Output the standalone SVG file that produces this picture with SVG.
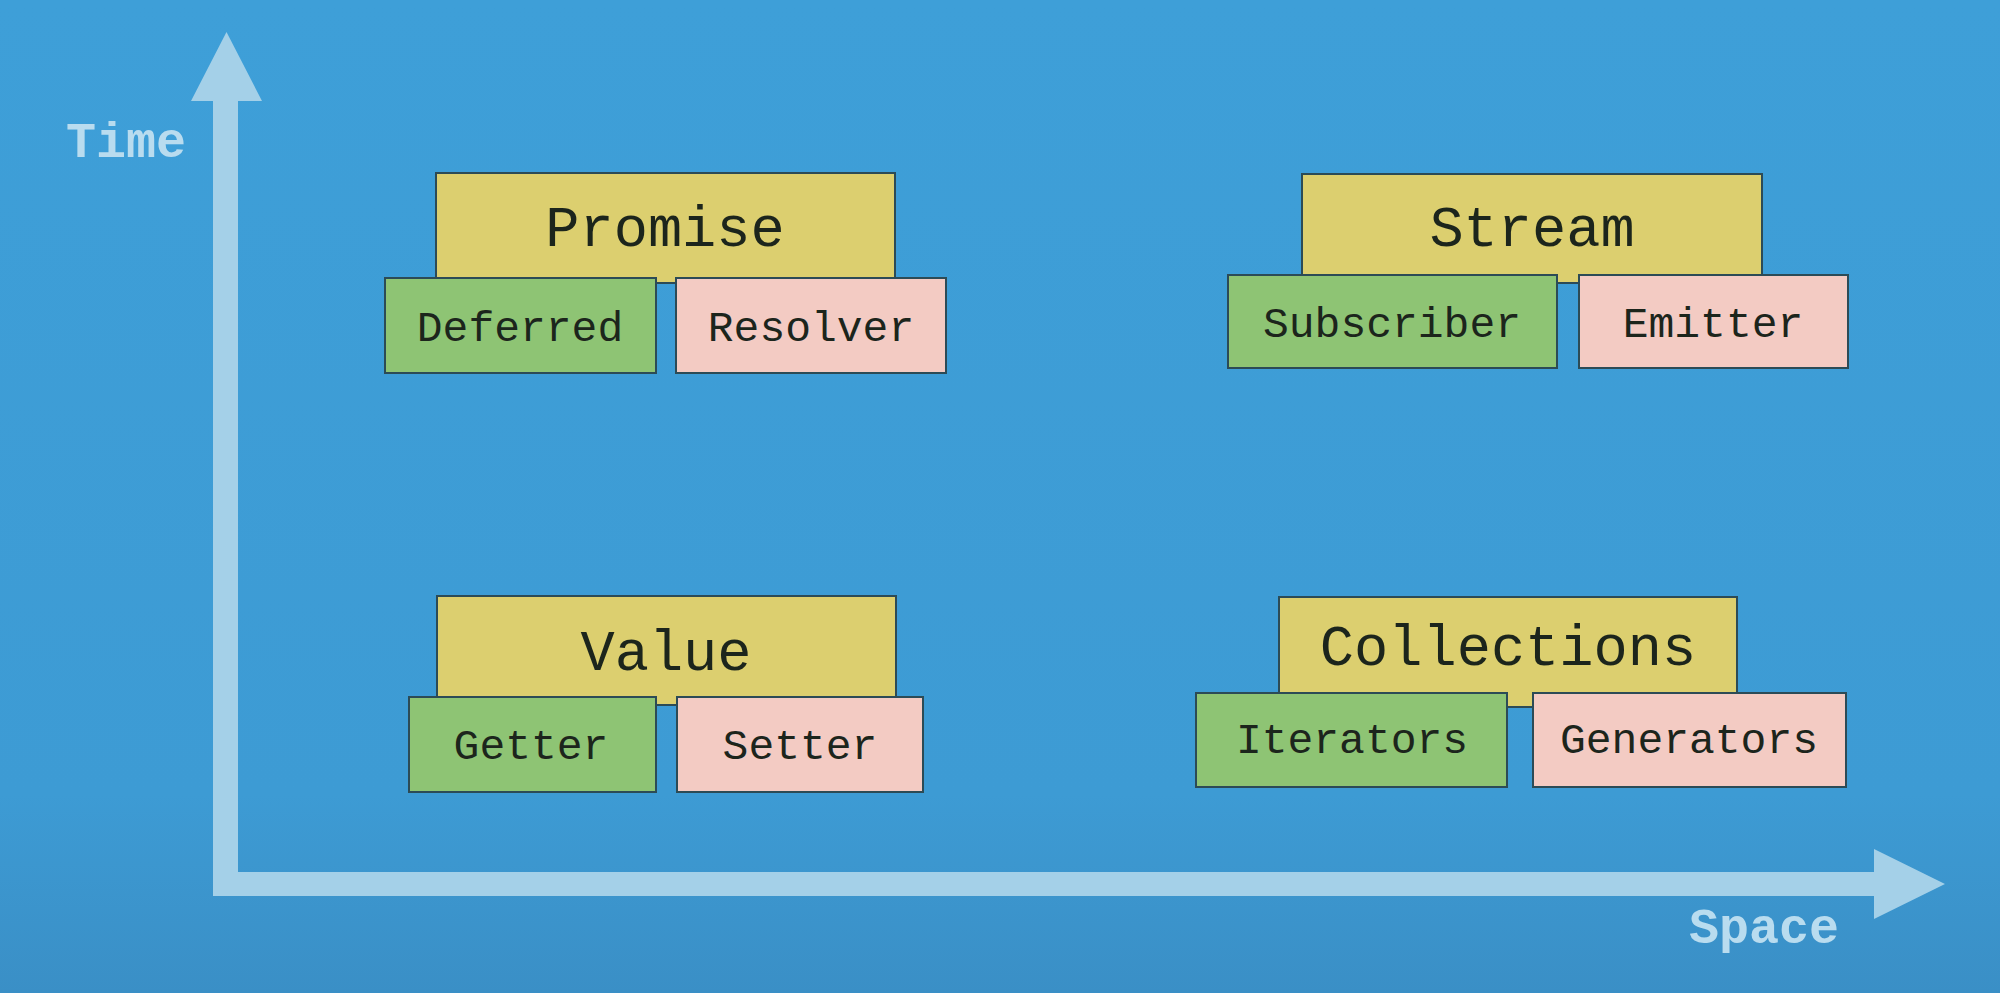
<svg xmlns="http://www.w3.org/2000/svg" width="2000" height="993" viewBox="0 0 2000 993">
<defs>
<linearGradient id="bg" x1="0" y1="0" x2="0" y2="1">
<stop offset="0" stop-color="#3e9fd8"/>
<stop offset="0.8" stop-color="#3d9bd4"/>
<stop offset="1" stop-color="#3a8fc6"/>
</linearGradient>
<style>
.ax{fill:#a4d0e8}
.axt{font-family:"Liberation Mono","Courier New",monospace;font-weight:bold;fill:#b9dcef;font-size:50px}
.bx{stroke:#2c4b56;stroke-width:2}
.y{fill:#dccf6f}
.g{fill:#8ec474}
.p{fill:#f3cbc3}
.t{font-family:"Liberation Mono","Courier New",monospace;fill:#1c251c;text-anchor:middle}
.big{font-size:57px}
.sm{font-size:43px}
</style>
</defs>
<rect width="2000" height="993" fill="url(#bg)"/>
<g id="axes">
<path class="ax" d="M213,101 L191,101 L226.5,32 L262,101 L238,101 L238,872 L1874,872 L1874,849 L1945,884 L1874,919 L1874,896 L213,896 Z"/>
<text class="axt" x="66" y="157">Time</text>
<text class="axt" x="1689" y="943">Space</text>
</g>
<g id="promise"><rect class="bx y" x="436" y="173" width="459" height="110"/><text class="t big" x="665" y="246">Promise</text></g>
<g id="deferred"><rect class="bx g" x="385" y="278" width="271" height="95"/><text class="t sm" x="520" y="341">Deferred</text></g>
<g id="resolver"><rect class="bx p" x="676" y="278" width="270" height="95"/><text class="t sm" x="811" y="341">Resolver</text></g>
<g id="stream"><rect class="bx y" x="1302" y="174" width="460" height="109"/><text class="t big" x="1532" y="246">Stream</text></g>
<g id="subscriber"><rect class="bx g" x="1228" y="275" width="329" height="93"/><text class="t sm" x="1392" y="337">Subscriber</text></g>
<g id="emitter"><rect class="bx p" x="1579" y="275" width="269" height="93"/><text class="t sm" x="1713" y="337">Emitter</text></g>
<g id="value"><rect class="bx y" x="437" y="596" width="459" height="109"/><text class="t big" x="666" y="670">Value</text></g>
<g id="getter"><rect class="bx g" x="409" y="697" width="247" height="95"/><text class="t sm" x="531" y="759">Getter</text></g>
<g id="setter"><rect class="bx p" x="677" y="697" width="246" height="95"/><text class="t sm" x="800" y="759">Setter</text></g>
<g id="collections"><rect class="bx y" x="1279" y="597" width="458" height="110"/><text class="t big" x="1508" y="665">Collections</text></g>
<g id="iterators"><rect class="bx g" x="1196" y="693" width="311" height="94"/><text class="t sm" x="1352" y="753">Iterators</text></g>
<g id="generators"><rect class="bx p" x="1533" y="693" width="313" height="94"/><text class="t sm" x="1689" y="753">Generators</text></g>
</svg>
